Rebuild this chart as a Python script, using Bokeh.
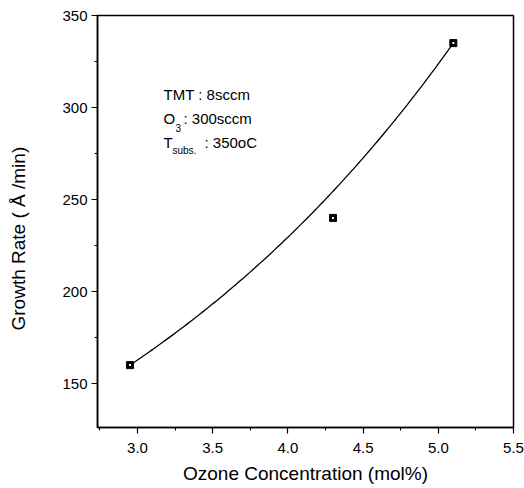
import numpy as np
from bokeh.plotting import figure
from bokeh.models import FixedTicker, NumeralTickFormatter, Label, Range1d, Title
from bokeh.embed import file_html
from bokeh.resources import INLINE

# Measured growth rate versus ozone concentration
ozone_conc = [2.95, 4.30, 5.10]          # mol%
growth_rate = [160.0, 240.0, 335.0]      # Å/min

x_major = [3.0, 3.5, 4.0, 4.5, 5.0, 5.5]
y_major = [150, 200, 250, 300, 350]

FONT = "Liberation Sans"

# Plot frame geometry (pixels)
LEFT, RIGHT, TOP, BOTTOM = 97, 11, 15, 61
FW, FH = 416, 412
X_LO, X_HI = 2.734, 5.5
Y_LO, Y_HI = 126.1, 350.0


def px_x(px):
    """Canvas x pixel -> data x."""
    return X_LO + (px - LEFT) * (X_HI - X_LO) / FW


def px_y(py):
    """Canvas y pixel (from top) -> data y."""
    return Y_HI - (py - TOP) * (Y_HI - Y_LO) / FH


p = figure(
    frame_width=FW, frame_height=FH,
    min_border_left=LEFT, min_border_right=RIGHT,
    min_border_top=TOP, min_border_bottom=BOTTOM,
    x_range=Range1d(X_LO, X_HI), y_range=Range1d(Y_LO, Y_HI),
    output_backend="svg", toolbar_location=None,
    background_fill_color="white", border_fill_color="white",
)
p.grid.visible = False
p.outline_line_color = "black"
p.outline_line_width = 1.5

x_minor = [(a + b) / 2 for a, b in zip(x_major[:-1], x_major[1:])]
x_minor = [x_major[0] - 0.25] + x_minor
y_minor = [(a + b) / 2 for a, b in zip(y_major[:-1], y_major[1:])]
y_minor = [y_major[0] - 25] + y_minor

for ax, major, minor, fmt in ((p.xaxis, x_major, x_minor, "0.0"),
                              (p.yaxis, y_major, y_minor, "0")):
    ax.ticker = FixedTicker(ticks=major, minor_ticks=minor)
    ax.formatter = NumeralTickFormatter(format=fmt)
    ax.axis_line_width = 1.5
    ax.axis_line_color = "black"
    ax.major_tick_in = 0
    ax.major_tick_out = 6
    ax.minor_tick_in = 0
    ax.minor_tick_out = 3
    ax.major_tick_line_width = 1.2
    ax.minor_tick_line_width = 1.0
    ax.major_label_text_font = FONT
    ax.major_label_text_font_size = "15px"
    ax.major_label_text_color = "black"

p.xaxis.major_label_standoff = 9
p.yaxis.major_label_standoff = 4

p.xaxis.axis_label = "Ozone Concentration (mol%)"
p.xaxis.axis_label_text_font = FONT
p.xaxis.axis_label_text_font_size = "19px"
p.xaxis.axis_label_text_font_style = "normal"
p.xaxis.axis_label_text_color = "black"
p.xaxis.axis_label_standoff = 7

# Blank y-axis label used only as a spacer between tick labels and the title
p.yaxis.axis_label = " "
p.yaxis.axis_label_text_font_size = "1px"
p.yaxis.axis_label_standoff = 27

# Vertical y-axis title, a little below the frame's centre
p.add_layout(Title(
    text="Growth Rate ( Å /min)", align="left", offset=97, standoff=0,
    text_font=FONT, text_font_size="19px", text_font_style="normal",
    text_color="black",
), "left")

# Fitted exponential growth curve through the first and last measurements
k = np.log(growth_rate[-1] / growth_rate[0]) / (ozone_conc[-1] - ozone_conc[0])
xs = np.linspace(ozone_conc[0], ozone_conc[-1], 120)
ys = growth_rate[0] * np.exp(k * (xs - ozone_conc[0]))
p.line(xs, ys, line_color="black", line_width=1.3)

p.scatter(ozone_conc, growth_rate, marker="square", size=7,
          fill_color="black", line_color="black", line_width=1)
p.scatter(ozone_conc, growth_rate, marker="square", size=2,
          fill_color="white", line_color=None)


def note(text, px, py, size="15px"):
    p.add_layout(Label(
        x=px_x(px), y=px_y(py), text=text,
        text_align="left", text_baseline="alphabetic",
        text_font=FONT, text_font_size=size, text_color="black",
    ))


# Deposition conditions
note("TMT : 8sccm", 163, 94)
note("O", 163, 118)
note("3", 175, 127, "10px")
note(": 300sccm", 183, 118)
note("T", 163, 142)
note("subs.", 172, 150, "10px")
note(": 350oC", 204, 142)

open("out.html", "w").write(file_html(p, INLINE))
